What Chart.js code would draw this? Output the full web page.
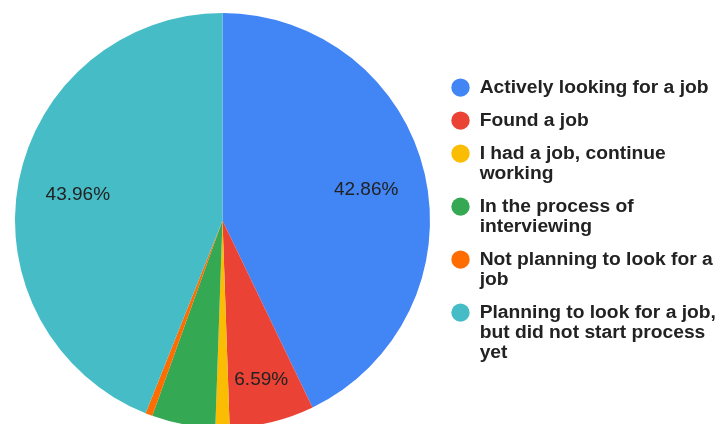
<!DOCTYPE html>
<html lang="en">
<head>
    <meta charset="UTF-8">
    <title>Job search status</title>
    <script src="https://cdn.jsdelivr.net/npm/chart.js"></script>
    <style>
        html, body {
            margin: 0;
            padding: 0;
            overflow: hidden;
            background: #ffffff;
        }
        canvas {
            display: block;
        }
    </style>
</head>
<body>
    <canvas id="statusChart" width="721" height="428"></canvas>

    <script>
        // Survey answers (number of responses per answer)
        const statusLabels = [
            ['Actively looking for a job'],
            ['Found a job'],
            ['I had a job, continue', 'working'],
            ['In the process of', 'interviewing'],
            ['Not planning to look for a', 'job'],
            ['Planning to look for a job,', 'but did not start process', 'yet']
        ];
        const responseCounts = [78, 12, 2, 9, 1, 80];
        const sliceColors = ['#4285F4', '#EA4335', '#FBBC04', '#34A853', '#FF6D01', '#46BDC6'];

        // percentage text inside the bigger slices
        const sliceLabels = {
            id: 'sliceLabels',
            afterDatasetsDraw(chart) {
                const ctx = chart.ctx;
                const meta = chart.getDatasetMeta(0);
                const values = chart.data.datasets[0].data;
                const total = values.reduce((a, b) => a + b, 0);
                ctx.save();
                ctx.font = '19px "Liberation Sans", Arial, sans-serif';
                ctx.fillStyle = '#222222';
                ctx.textAlign = 'center';
                ctx.textBaseline = 'middle';
                meta.data.forEach((arc, i) => {
                    const pct = values[i] / total * 100;
                    if (pct < 5) return;
                    const { x, y, startAngle, endAngle, outerRadius } = arc.getProps(['x', 'y', 'startAngle', 'endAngle', 'outerRadius'], true);
                    const mid = (startAngle + endAngle) / 2;
                    const k = (endAngle - startAngle) < Math.PI / 6 ? 0.78 : 0.71;
                    ctx.fillText(pct.toFixed(2) + '%', x + Math.cos(mid) * outerRadius * k, y + Math.sin(mid) * outerRadius * k + 2);
                });
                ctx.restore();
            }
        };

        new Chart(document.getElementById('statusChart'), {
            type: 'pie',
            data: {
                labels: statusLabels,
                datasets: [{
                    data: responseCounts,
                    backgroundColor: sliceColors,
                    borderWidth: 0
                }]
            },
            options: {
                responsive: false,
                animation: false,
                events: [],
                layout: {
                    padding: { top: 13, left: 7, right: 5, bottom: 0 }
                },
                plugins: {
                    tooltip: { enabled: false },
                    legend: {
                        position: 'right',
                        maxWidth: 278,
                        labels: {
                            usePointStyle: true,
                            pointStyle: 'circle',
                            boxWidth: 19,
                            boxHeight: 13,
                            padding: 13,
                            color: '#222222',
                            font: {
                                family: '"Liberation Sans", Arial, sans-serif',
                                size: 19.25,
                                weight: 'bold',
                                lineHeight: 20 / 19.25
                            }
                        }
                    }
                }
            },
            plugins: [sliceLabels]
        });
    </script>
</body>
</html>
